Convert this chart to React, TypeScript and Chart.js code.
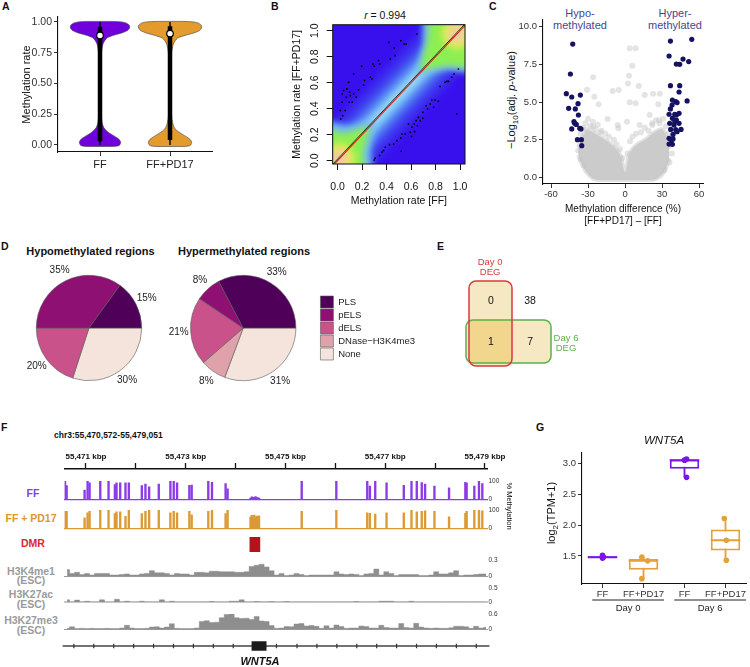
import React, { useEffect, useRef } from 'react';
import { Chart, registerables } from 'chart.js';

Chart.register(...registerables);

const FONT = '"Liberation Sans", Arial, Helvetica, sans-serif';
Chart.defaults.font.family = FONT;
Chart.defaults.color = '#222';

// ================= DATA =================
// Panel A – violin profiles (relative density at each methylation level)
const violinGroups = ['FF', 'FF+PD17'];
const violinLevels = [-0.012, -0.006, 0, 0.02, 0.04, 0.06, 0.08, 0.1, 0.12, 0.14, 0.17, 0.22, 0.35, 0.5, 0.65, 0.73, 0.78, 0.82, 0.85, 0.87, 0.89, 0.91, 0.93, 0.95, 0.97, 0.99, 1.0, 1.004];
const violinDensityFF = [14, 19, 20, 21, 20, 17, 13, 9, 6, 4, 2.5, 1.5, 0.9, 0.8, 0.9, 1.3, 2, 3, 5, 7, 13, 22, 28, 30, 30, 27, 22, 13];
const violinDensityPD = [15, 20, 21, 22, 21, 18, 14, 10, 6.5, 4.5, 3, 1.8, 1, 0.9, 1, 1.4, 2.2, 3.4, 5.5, 8, 15, 24, 30, 32, 32, 29, 24, 14];
const violinMin = [0, 0];
const violinQ1 = [0.03, 0.04];
const violinMedian = [0.89, 0.905];
const violinQ3 = [0.96, 0.965];
const violinMax = [1, 1];
const rateTicks = [0, 0.25, 0.5, 0.75, 1];

// Panel B – scattered CpGs outside the dense diagonal
const upperX = [0.419, 0.516, 0.544, 0.560, 0.462, 0.647, 0.430, 0.470, 0.334, 0.288, 0.343, 0.299, 0.196, 0.131, 0.267, 0.280, 0.220, 0.212, 0.171, 0.090, 0.076, 0.049, 0.038, 0.098, 0.131, 0.104, 0.071, 0.152, 0.095, 0.120, 0.036, 0.063, 0.022, 0.041, 0.025];
const upperY = [0.910, 0.923, 0.898, 0.898, 0.867, 0.975, 0.782, 0.808, 0.770, 0.744, 0.744, 0.726, 0.726, 0.667, 0.641, 0.628, 0.616, 0.582, 0.546, 0.603, 0.552, 0.539, 0.513, 0.526, 0.513, 0.500, 0.487, 0.487, 0.449, 0.449, 0.449, 0.385, 0.385, 0.346, 0.321];
const lowerX = [0.986, 0.951, 0.932, 0.905, 0.891, 0.878, 0.837, 0.796, 0.769, 0.756, 0.823, 0.783, 0.723, 0.734, 0.696, 0.660, 0.674, 0.641, 0.625, 0.652, 0.606, 0.593, 0.579, 0.552, 0.525, 0.516, 0.484, 0.457, 0.424, 0.389, 0.375, 0.362, 0.343, 0.307, 0.299, 0.519, 0.973, 0.696, 0.628, 0.604];
const lowerY = [0.705, 0.667, 0.641, 0.610, 0.610, 0.603, 0.570, 0.467, 0.467, 0.436, 0.457, 0.410, 0.423, 0.398, 0.372, 0.333, 0.308, 0.308, 0.282, 0.269, 0.257, 0.218, 0.282, 0.205, 0.205, 0.175, 0.154, 0.128, 0.123, 0.103, 0.077, 0.064, 0.039, 0.018, 0.005, 0.072, 0.359, 0.326, 0.223, 0.185];
const identityX = [-0.05, 1.05];
const identityY = [-0.05, 1.05];
const fitY = [-0.038, 1.062];
const bTicks = [0, 0.2, 0.4, 0.6, 0.8, 1.0];

// Panel C – volcano
const hypoX = [-42.4, -44.3, -47.6, -43.2, -36.2, -45.7, -40.3, -38.1, -37.8, -40.8, -39.5, -43.2, -35.7, -38.6, -35.4, -35.1, -41.4, -36.7];
const hypoY = [8.83, 6.85, 5.55, 5.33, 5.46, 4.58, 4.54, 4.89, 4.14, 3.59, 3.52, 3.22, 3.22, 2.51, 2.51, 2.11, 3.70, 3.26];
const hyperX = [36.8, 54.1, 35.7, 47.0, 41.6, 44.3, 51.6, 36.8, 44.3, 43.8, 38.4, 41.1, 42.2, 50.3, 36.8, 35.7, 40.3, 41.6, 43.8, 38.4, 41.6, 36.2, 39.7, 43.8, 37.0, 41.1, 45.4, 38.9, 42.2, 35.7, 37.6, 35.7, 38.4, 38.9, 40.3, 38.1];
const hyperY = [9.03, 9.14, 8.04, 7.84, 7.51, 7.49, 7.67, 6.08, 6.08, 5.66, 5.13, 5.02, 4.96, 5.07, 4.54, 4.19, 4.19, 4.14, 4.25, 3.92, 3.81, 3.59, 3.48, 3.59, 3.19, 3.17, 3.19, 2.86, 3.04, 2.60, 2.49, 2.22, 2.20, 2.56, 3.70, 4.80];
const nsX = [3.8, 8.6, 5.9, -25.9, 3.2, 2.4, 11.1, -5.1, -10.0, -30.8, -24.9, 22.7, 28.1, 15.9, 3.8, 8.6, -21.4, 27.0, -14.1, -5.9, 1.6, 11.9, -20.0, -25.9, 20.0, 22.2, -31.4, 27.6, -5.4, -36, -34, -32, -30, -28, -26, -24, -22, -19, -16, -13, -9, -7, -4, -2, 2, 4, 6, 9, 13, 16, 19, 22, 25, 28, 31, 33, 35, 37, -38, -36, 36, 38, -33, 32];
const nsY = [8.55, 8.55, 7.40, 6.63, 6.74, 6.23, 6.06, 5.79, 5.73, 5.81, 5.35, 5.55, 5.55, 5.46, 4.98, 4.91, 4.85, 4.85, 3.88, 3.48, 3.70, 3.48, 3.00, 3.37, 4.14, 3.48, 3.15, 3.79, 3.26, 2.9, 3.3, 3.6, 3.9, 3.4, 3.7, 3.2, 3.5, 3.1, 2.9, 2.7, 2.5, 2.2, 1.9, 1.3, 1.6, 2.4, 2.7, 2.9, 3.0, 3.3, 3.1, 3.6, 3.8, 3.6, 3.9, 3.4, 2.9, 2.3, 1.8, 1.2, 1.0, 1.6, 0.8, 0.5];
const cloudX = [-38, -35, -32, -29, -26, -22, -18, -14, -10, -6, -3, -1.5, 0, 1.5, 3, 6, 10, 14, 18, 22, 26, 30, 33, 36];
const cloudHigh = [2.0, 2.6, 3.0, 3.1, 3.0, 2.8, 2.6, 2.4, 2.1, 1.8, 1.3, 0.7, 0.35, 0.8, 1.5, 1.9, 2.2, 2.4, 2.6, 2.9, 3.1, 3.2, 2.8, 1.9];
const cloudLow = [1.5, 0.9, 0.45, 0.15, -0.05, -0.15, -0.15, -0.15, -0.15, -0.15, -0.15, -0.15, -0.15, -0.15, -0.15, -0.15, -0.15, -0.15, -0.15, -0.15, -0.05, 0.2, 0.6, 1.3];
const diffTicks = [-60, -30, 0, 30, 60];
const pTicks = [0, 2.5, 5, 7.5, 10];

// Panel D – region annotation shares (%)
const regionTypes = ['PLS', 'pELS', 'dELS', 'DNase−H3K4me3', 'None'];
const hypoPct = [15, 35, 20, 0, 30];
const hyperPct = [33, 8, 21, 8, 31];

// Panel E – DEG overlap counts
const vennCells = ['Day 0 only', 'Neither', 'Both', 'Day 6 only'];
const vennCounts = [0, 38, 1, 7];

// Panel F – genome browser
const GSTART = 55470572;
const GEND = 55479051;
const axisKbp = [55471, 55472, 55473, 55474, 55475, 55476, 55477, 55478, 55479];
const cpgPos = [55470580, 55470613, 55470973, 55471033, 55471073, 55471287, 55471453, 55471580, 55471613, 55471687, 55471793, 55471860, 55472120, 55472193, 55472267, 55472460, 55472693, 55472760, 55472827, 55473073, 55473120, 55473453, 55473527, 55473800, 55473840,
  55474300, 55474325, 55474350, 55474375, 55474400, 55474425, 55474450, 55474470,
  55475326, 55476020, 55476640, 55476693, 55476800, 55477027, 55477373, 55477527, 55477633, 55477733, 55477800, 55477987, 55478280, 55478607, 55478633, 55478787, 55478880, 55478947];
const methFF = [100, 74, 49, 100, 89, 100, 100, 80, 89, 89, 89, 89, 74, 83, 68, 83, 100, 100, 89, 75, 77, 100, 92, 85, 57,
  6, 12, 10, 8, 14, 9, 7, 5,
  100, 100, 100, 72, 100, 89, 75, 100, 100, 91, 83, 72, 62, 92, 88, 72, 100, 85];
const methPD = [92, 92, 56, 84, 92, 100, 100, 80, 89, 89, 64, 100, 80, 92, 100, 100, 84, 92, 84, 92, 73, 92, 100, 80, 100,
  62, 70, 58, 72, 60, 66, 55, 68,
  92, 100, 84, 81, 77, 84, 84, 100, 89, 92, 95, 92, 62, 81, 92, 100, 100, 95];
const dmrStart = 55474280;
const dmrEnd = 55474494;
const HIST_START = 55470572;
const HIST_STEP = 100;
const h3k4me1 = [0.12, 0.05, 0.07, 0.03, 0.05, 0.02, 0.05, 0.05, 0.05, 0.02,
  0.02, 0.03, 0.04, 0.02, 0.02, 0.04, 0.05, 0.10, 0.06, 0.06,
  0.05, 0.02, 0.05, 0.04, 0.04, 0.02, 0.07, 0.07, 0.06, 0.09,
  0.09, 0.08, 0.08, 0.08, 0.07, 0.07, 0.08, 0.18, 0.20, 0.22,
  0.17, 0.10, 0.02, 0.05, 0.01, 0.02, 0.05, 0.03, 0.01, 0.02,
  0.02, 0.02, 0.02, 0.02, 0.08, 0.04, 0.03, 0.04, 0.03, 0.01,
  0.04, 0.05, 0.13, 0.02, 0.08, 0.05, 0.01, 0.03, 0.03, 0.03,
  0.03, 0.01, 0.01, 0.02, 0.08, 0.04, 0.04, 0.06, 0.10, 0.01,
  0.02, 0.02, 0.03, 0.04, 0.04];
const h3k27ac = [0.08, 0, 0.07, 0, 0.03, 0, 0, 0.08, 0, 0,
  0.10, 0, 0.03, 0, 0, 0.03, 0, 0, 0, 0.08,
  0, 0.03, 0, 0, 0, 0, 0, 0, 0, 0.02,
  0, 0, 0, 0.03, 0.03, 0.08, 0, 0, 0.02, 0,
  0, 0.02, 0, 0, 0.02, 0, 0, 0, 0, 0,
  0, 0, 0, 0, 0, 0, 0, 0, 0.02, 0,
  0, 0, 0, 0.03, 0.03, 0.03, 0, 0, 0, 0.03,
  0, 0, 0, 0, 0, 0, 0, 0, 0, 0,
  0, 0, 0, 0, 0];
const h3k27me3 = [0.03, 0.09, 0.02, 0.03, 0.02, 0.03, 0.02, 0.02, 0.03, 0.02,
  0.02, 0.04, 0.15, 0.04, 0.02, 0.02, 0.03, 0.08, 0.09, 0.04,
  0.08, 0.21, 0.03, 0.02, 0.02, 0.02, 0.04, 0.30, 0.33, 0.26,
  0.27, 0.45, 0.58, 0.60, 0.45, 0.42, 0.43, 0.38, 0.50, 0.32,
  0.30, 0.14, 0.03, 0.04, 0.10, 0.09, 0.20, 0.22, 0.12, 0.14,
  0.11, 0.03, 0.13, 0.04, 0.16, 0.10, 0.03, 0.04, 0.04, 0.12,
  0.10, 0.04, 0.04, 0.15, 0.06, 0.04, 0.04, 0.22, 0.06, 0.04,
  0.23, 0.08, 0.04, 0.03, 0.04, 0.03, 0.03, 0.05, 0.11, 0.11,
  0.09, 0.03, 0.11, 0.04, 0.07];
const geneStart = 55470520;
const geneEnd = 55479090;
const exonStart = 55474314;
const exonEnd = 55474614;
const intronMarks = [55470746, 55471146, 55471546, 55471946, 55472346, 55472746, 55473146, 55473546, 55473946, 55474814, 55475226, 55475626, 55476026, 55476426, 55476826, 55477226, 55477626, 55478026, 55478426, 55478826];

// Panel G – WNT5A expression
const tpmLabels = ['FF', 'FF+PD17', 'FF', 'FF+PD17'];
const tpmDays = ['Day 0', 'Day 0', 'Day 6', 'Day 6'];
const tpmMin = [1.465, 1.13, 2.78, 1.43];
const tpmQ1 = [1.47, 1.275, 2.92, 1.59];
const tpmMed = [1.48, 1.42, 3.06, 1.755];
const tpmQ3 = [1.495, 1.45, 3.07, 1.93];
const tpmMax = [1.51, 1.48, 3.08, 2.11];
const tpmPoints = [[1.465, 1.48, 1.51], [1.48, 1.42, 1.13], [3.08, 3.06, 2.78], [2.11, 1.755, 1.43]];
const tpmJitter = [[0, 0.02, 0], [-0.04, 0.1, -0.04], [0.05, 0, 0.05], [-0.03, 0.02, 0.02]];
const tpmTicks = [1.5, 2.0, 2.5, 3.0];

// ================= STYLE =================
const PURPLE = '#7000DC';
const ORANGE = '#E39B2E';
const regionColors = ['#4F0058', '#8E1072', '#C9528A', '#DFA2AA', '#F4E4DB'];
const NAVY = '#161262';

// ================= HELPERS =================
function opts(o: any) {
  return {
    responsive: false,
    animation: false,
    events: [],
    ...o,
    plugins: { legend: { display: false }, tooltip: { enabled: false }, ...(o.plugins || {}) },
  };
}
const fixedTicks = (vals: number[]) => (s: any) => { s.ticks = vals.map((v) => ({ value: v })); };
const ggGrid = { display: true, drawOnChartArea: false, drawTicks: true, tickLength: 4, color: '#333', tickWidth: 1 };
const ggBorder = { display: true, color: '#111', width: 1.1 };

function ChartBox({ x, y, w, h, make }: any) {
  const ref = useRef<HTMLCanvasElement>(null);
  useEffect(() => {
    const chart = new Chart(ref.current as HTMLCanvasElement, make());
    return () => chart.destroy();
  }, []);
  return <canvas ref={ref} width={w} height={h} style={{ position: 'absolute', left: x, top: y, width: w, height: h }} />;
}

function Txt({ x, y, children, size = 10, color = '#111', bold = false, italic = false, rotate = 0, left = false }: any) {
  return (
    <div style={{
      position: 'absolute', left: x, top: y, whiteSpace: 'nowrap', lineHeight: 1.05, textAlign: left ? 'left' : 'center',
      transform: `translate(${left ? '0' : '-50%'}, -50%) rotate(${rotate}deg)`,
      fontSize: size, color, fontWeight: bold ? 'bold' : 'normal', fontStyle: italic ? 'italic' : 'normal', fontFamily: FONT,
    }}>{children}</div>
  );
}

// ================= PANEL A =================
function makeViolin() {
  const maxD = Math.max(...violinDensityFF, ...violinDensityPD);
  const k = 0.45 / maxD;
  const dens = [violinDensityFF, violinDensityPD];
  const cols = [PURPLE, ORANGE];
  const g = violinGroups.map((_, i) => i);
  const poly = (i: number) => {
    const c = i + 1;
    const right = violinLevels.map((v, j) => ({ x: c + dens[i][j] * k, y: v }));
    const left = violinLevels.map((v, j) => ({ x: c - dens[i][j] * k, y: v })).reverse();
    return [...right, ...left, right[0]];
  };
  return {
    type: 'scatter',
    data: {
      datasets: [
        { data: g.map((i) => ({ x: i + 1, y: violinMedian[i] })), pointRadius: 3.3, pointBackgroundColor: '#fff', pointBorderColor: '#000', pointBorderWidth: 1.2 },
        ...g.map((i) => ({ data: [{ x: i + 1, y: violinQ1[i] }, { x: i + 1, y: violinQ3[i] }], showLine: true, borderColor: '#000', borderWidth: 4.5, borderCapStyle: 'butt', pointRadius: 0 })),
        ...g.map((i) => ({ data: [{ x: i + 1, y: violinMin[i] }, { x: i + 1, y: violinMax[i] }], showLine: true, borderColor: '#000', borderWidth: 1.4, pointRadius: 0 })),
        ...g.map((i) => ({ data: poly(i), showLine: true, fill: 'shape', backgroundColor: cols[i], borderColor: '#3a3a3a', borderWidth: 0.6, pointRadius: 0, tension: 0.2 })),
      ],
    },
    options: opts({
      layout: { padding: { left: 14, top: 17, right: 10, bottom: 0 } },
      scales: {
        x: {
          type: 'linear', min: 0.4, max: 2.6, afterBuildTicks: fixedTicks([1, 2]),
          ticks: { callback: (v: any) => violinGroups[Math.round(v) - 1], font: { size: 11 }, color: '#222', padding: 2, autoSkip: false, maxRotation: 0 },
          grid: ggGrid, border: ggBorder, afterFit: (s: any) => { s.height = 23; },
        },
        y: {
          type: 'linear', min: -0.057, max: 1.04, afterBuildTicks: fixedTicks(rateTicks),
          ticks: { callback: (v: any) => Number(v).toFixed(2), font: { size: 10.5 }, color: '#333', padding: 2 },
          title: { display: true, text: 'Methylation rate', font: { size: 11 }, color: '#111', padding: { top: 6, bottom: 0 } },
          grid: ggGrid, border: ggBorder, afterFit: (s: any) => { s.width = 44; },
        },
      },
    }),
  };
}

// ================= PANEL B =================
const densityPlugin = {
  id: 'densityBg',
  beforeDatasetsDraw(chart: any) {
    const { ctx, chartArea: a, scales } = chart;
    const X = (v: number) => scales.x.getPixelForValue(v);
    const Y = (v: number) => scales.y.getPixelForValue(v);
    const poly = (pts: number[][], style: any) => {
      ctx.beginPath();
      pts.forEach(([u, v], i) => (i ? ctx.lineTo(X(u), Y(v)) : ctx.moveTo(X(u), Y(v))));
      ctx.closePath();
      ctx.fillStyle = style;
      ctx.fill();
    };
    ctx.save();
    ctx.beginPath();
    ctx.rect(a.left, a.top, a.width, a.height);
    ctx.clip();
    ctx.fillStyle = '#3810EE';
    ctx.fillRect(a.left, a.top, a.width, a.height);
    ctx.filter = 'blur(3px)';
    const bands: [number, string][] = [[0.17, '#3b22ef'], [0.135, '#3f38f0'], [0.10, '#4657f1'], [0.075, '#527cf3'], [0.052, '#64a2f5'], [0.033, '#80c4f7'], [0.016, '#a0def8']];
    bands.forEach(([d, c]) => poly([[-0.2 - d, -0.2 + d], [1.2 - d, 1.2 + d], [1.2 + d, 1.2 - d], [-0.2 + d, -0.2 - d]], c));
    // corner cones (high-density regions)
    poly([[-0.1, -0.1], [-0.1, 0.31], [0.08, 0.27], [0.31, 0.31], [0.27, 0.08], [0.29, -0.1]], '#6fb8f5');
    poly([[1.1, 1.1], [0.69, 1.1], [0.7, 0.9], [0.64, 0.66], [0.9, 0.7], [1.1, 0.67]], '#6fb8f5');
    poly([[-0.1, -0.1], [-0.1, 0.25], [0.05, 0.21], [0.27, 0.27], [0.21, 0.05], [0.23, -0.1]], '#8DEF52');
    poly([[1.1, 1.1], [0.75, 1.1], [0.73, 0.92], [0.67, 0.69], [0.9, 0.73], [1.1, 0.71]], '#8DEF52');
    [[0.015, 0.015], [0.975, 0.975]].forEach(([u, v]) => {
      const cx = X(u), cy = Y(v);
      const g = ctx.createRadialGradient(cx, cy, 0, cx, cy, 18);
      g.addColorStop(0, '#f3c6aa');
      g.addColorStop(0.4, '#f0cf98');
      g.addColorStop(0.62, '#ece85a');
      g.addColorStop(0.82, '#c4f04a');
      g.addColorStop(1, 'rgba(141,239,82,0)');
      ctx.fillStyle = g;
      ctx.beginPath();
      ctx.arc(cx, cy, 18, 0, Math.PI * 2);
      ctx.fill();
    });
    ctx.restore();
  },
  afterDatasetsDraw(chart: any) {
    const { ctx, chartArea: a } = chart;
    ctx.save();
    ctx.strokeStyle = '#111';
    ctx.lineWidth = 1;
    ctx.strokeRect(a.left, a.top, a.width, a.height);
    ctx.restore();
  },
};

function makeSmooth() {
  return {
    type: 'scatter',
    data: {
      datasets: [
        { data: upperX.map((v, i) => ({ x: v, y: upperY[i] })), pointStyle: 'rect', pointRadius: 1.1, pointBackgroundColor: '#000', pointBorderWidth: 0 },
        { data: lowerX.map((v, i) => ({ x: v, y: lowerY[i] })), pointStyle: 'rect', pointRadius: 1.1, pointBackgroundColor: '#000', pointBorderWidth: 0 },
        { data: identityX.map((v, i) => ({ x: v, y: identityY[i] })), showLine: true, borderColor: '#D81E1E', borderWidth: 1.1, pointRadius: 0 },
        { data: identityX.map((v, i) => ({ x: v, y: fitY[i] })), showLine: true, borderColor: '#1f3a1f', borderWidth: 1, pointRadius: 0 },
      ],
    },
    plugins: [densityPlugin],
    options: opts({
      layout: { padding: { left: 0, top: 16.7, right: 15, bottom: 0 } },
      scales: {
        x: {
          type: 'linear', min: -0.04, max: 1.04, afterBuildTicks: fixedTicks(bTicks),
          ticks: { callback: (v: any) => Number(v).toFixed(1), font: { size: 10.5 }, color: '#111', padding: 11, maxRotation: 0, autoSkip: false },
          grid: { display: true, drawOnChartArea: false, tickLength: 6, color: '#111' }, border: { display: false },
          title: { display: true, text: 'Methylation rate [FF]', font: { size: 10.5 }, color: '#111', padding: { top: 0, bottom: 6 } },
          afterFit: (s: any) => { s.height = 49; },
        },
        y: {
          type: 'linear', min: -0.026, max: 1.046, afterBuildTicks: fixedTicks(bTicks),
          ticks: { callback: (v: any) => Number(v).toFixed(1), font: { size: 10.5 }, color: '#111', padding: 4, minRotation: 90, maxRotation: 90, crossAlign: 'center' },
          grid: { display: true, drawOnChartArea: false, tickLength: 6, color: '#111' }, border: { display: false },
          title: { display: true, text: 'Methylation rate [FF+PD17]', font: { size: 10.5 }, color: '#111', padding: { top: 10.7, bottom: 0 } },
          afterFit: (s: any) => { s.width = 52.7; },
        },
      },
    }),
  };
}

// ================= PANEL C =================
function makeVolcano() {
  return {
    type: 'scatter',
    data: {
      datasets: [
        { data: hypoX.map((v, i) => ({ x: v, y: hypoY[i] })), pointRadius: 2.6, pointBackgroundColor: NAVY, pointBorderWidth: 0 },
        { data: hyperX.map((v, i) => ({ x: v, y: hyperY[i] })), pointRadius: 2.6, pointBackgroundColor: NAVY, pointBorderWidth: 0 },
        { data: nsX.map((v, i) => ({ x: v, y: nsY[i] })), pointRadius: 3, pointBackgroundColor: 'rgba(195,195,195,0.45)', pointBorderWidth: 0 },
        { data: cloudX.map((v, i) => ({ x: v, y: cloudHigh[i] })), showLine: true, fill: '+1', backgroundColor: 'rgba(200,200,200,0.95)', borderColor: 'rgba(205,205,205,0.6)', borderWidth: 4, pointRadius: 0, tension: 0.3 },
        { data: cloudX.map((v, i) => ({ x: v, y: cloudLow[i] })), showLine: true, borderColor: 'rgba(205,205,205,0.6)', borderWidth: 4, pointRadius: 0, tension: 0.3 },
      ],
    },
    options: opts({
      layout: { padding: { left: 0, top: 20, right: 47, bottom: 0 } },
      scales: {
        x: {
          type: 'linear', min: -66.5, max: 63.2, afterBuildTicks: fixedTicks(diffTicks),
          ticks: { font: { size: 9.5 }, color: '#333', padding: 1, maxRotation: 0, autoSkip: false },
          grid: ggGrid, border: ggBorder,
          title: { display: true, text: ['Methylation difference (%)', '[FF+PD17] – [FF]'], font: { size: 10 }, color: '#111', padding: { top: 0, bottom: 5 } },
          afterFit: (s: any) => { s.height = 48; },
        },
        y: {
          type: 'linear', min: -0.42, max: 10.42, afterBuildTicks: fixedTicks(pTicks),
          ticks: { callback: (v: any) => Number(v).toFixed(1), font: { size: 9.5 }, color: '#333', padding: 2 },
          grid: ggGrid, border: ggBorder, afterFit: (s: any) => { s.width = 43; },
        },
      },
    }),
  };
}

// ================= PANEL D =================
const pctLabels = {
  id: 'pctLabels',
  afterDatasetsDraw(chart: any) {
    const { ctx } = chart;
    const meta = chart.getDatasetMeta(0);
    const values = chart.data.datasets[0].data;
    ctx.save();
    ctx.font = `10px ${FONT}`;
    ctx.fillStyle = '#222';
    ctx.textAlign = 'center';
    ctx.textBaseline = 'middle';
    meta.data.forEach((arc: any, i: number) => {
      const v = values[i];
      if (!v) return;
      const p = arc.getProps(['x', 'y', 'startAngle', 'endAngle', 'outerRadius'], true);
      const ang = (p.startAngle + p.endAngle) / 2;
      const r = p.outerRadius + 12;
      ctx.fillText(`${v}%`, p.x + Math.cos(ang) * r, p.y + Math.sin(ang) * r);
    });
    ctx.restore();
  },
};

function makePie(values: number[], withLegend: boolean) {
  const rev = <T,>(a: T[]) => [...a].reverse();
  return {
    type: 'pie',
    data: {
      labels: rev(regionTypes),
      datasets: [{ data: rev(values), backgroundColor: rev(regionColors), borderColor: '#5a5a5a', borderWidth: 0.6 }],
    },
    plugins: [pctLabels],
    options: opts({
      rotation: 90,
      layout: { padding: withLegend ? { left: 27, top: 22, bottom: 22, right: 0 } : 22 },
      plugins: withLegend ? {
        legend: {
          display: true, position: 'right', reverse: true,
          labels: { boxWidth: 13, boxHeight: 12, padding: 1, font: { size: 9.5 }, color: '#222' },
        },
      } : {},
    }),
  };
}

// ================= PANEL E =================
const vennLayout = {
  day0: { x0: 0, x1: 1, y0: 0, y1: 2 },
  day6: { x0: -0.07, x1: 1.907, y0: 0.918, y1: 1.93 },
};
const vennCellPos = [[0.51, 0.47], [1.42, 0.47], [0.51, 1.44], [1.42, 1.44]];
const vennSetLabels = [
  { lines: ['Day 0', 'DEG'], x: 0.49, y: [-0.447, -0.212], color: '#D93A3A' },
  { lines: ['Day 6', 'DEG'], x: 2.256, y: [1.34, 1.576], color: '#5DAE4C' },
];
const vennPlugin = {
  id: 'venn',
  beforeDatasetsDraw(chart: any) {
    const { ctx, scales: { x, y } } = chart;
    const r = (b: any) => [x.getPixelForValue(b.x0), y.getPixelForValue(b.y0), x.getPixelForValue(b.x1), y.getPixelForValue(b.y1)];
    const A = r(vennLayout.day0);
    const B = r(vennLayout.day6);
    const rr = (q: number[]) => { ctx.beginPath(); ctx.roundRect(q[0], q[1], q[2] - q[0], q[3] - q[1], 7); };
    ctx.save();
    ctx.fillStyle = '#F7E8C4';
    rr(A); ctx.fill();
    rr(B); ctx.fill();
    ctx.save();
    rr(A); ctx.clip();
    ctx.fillStyle = '#F1D68E';
    rr(B); ctx.fill();
    ctx.restore();
    ctx.lineWidth = 1.5;
    ctx.strokeStyle = '#5DAE4C'; rr(B); ctx.stroke();
    ctx.strokeStyle = '#D93A3A'; rr(A); ctx.stroke();
    ctx.font = `9.5px ${FONT}`;
    ctx.textAlign = 'center';
    ctx.textBaseline = 'middle';
    vennSetLabels.forEach((l) => {
      ctx.fillStyle = l.color;
      l.lines.forEach((t, i) => ctx.fillText(t, x.getPixelForValue(l.x), y.getPixelForValue(l.y[i])));
    });
    ctx.restore();
  },
  afterDatasetsDraw(chart: any) {
    const { ctx } = chart;
    const meta = chart.getDatasetMeta(0);
    ctx.save();
    ctx.font = `10.5px ${FONT}`;
    ctx.fillStyle = '#111';
    ctx.textAlign = 'center';
    ctx.textBaseline = 'middle';
    meta.data.forEach((pt: any, i: number) => ctx.fillText(String(vennCounts[i]), pt.x, pt.y));
    ctx.restore();
  },
};
function makeVenn() {
  return {
    type: 'scatter',
    data: { labels: vennCells, datasets: [{ data: vennCellPos.map(([u, v]) => ({ x: u, y: v })), pointRadius: 0 }] },
    plugins: [vennPlugin],
    options: opts({
      layout: { padding: { left: 20.4, right: 20.6, top: 11.25, bottom: 3.75 } },
      scales: {
        x: { type: 'linear', min: -0.2, max: 2.8, display: false },
        y: { type: 'linear', min: -0.7, max: 2.5, reverse: true, display: false },
      },
    }),
  };
}

// ================= PANEL F =================
const trackX = (baseline?: any) => ({
  type: 'linear', min: GSTART, max: GEND, offset: false,
  display: !!baseline,
  ticks: { display: false }, grid: { display: false },
  border: baseline ? { display: true, color: baseline.color, width: baseline.width } : { display: false },
  afterFit: (s: any) => { s.height = 0; },
});
const trackY = (max: number, ticks?: number[]) => (ticks ? {
  position: 'right', min: 0, max, afterBuildTicks: fixedTicks(ticks),
  ticks: { font: { size: 6.5 }, color: '#333', padding: 1, callback: (v: any) => String(v) },
  grid: { display: false, drawTicks: false, tickLength: 0 }, border: { display: false },
  afterFit: (s: any) => { s.width = 32.5; },
} : { min: 0, max, display: false });
const trackOpts = (x: any, y: any, top: number, bottom: number, right: number) =>
  opts({ layout: { padding: { left: 4.6, right, top, bottom } }, scales: { x, y } });

function makeAxisTrack() {
  return {
    type: 'line',
    data: { datasets: [] },
    options: opts({
      layout: { padding: { left: 4.6, right: 42.5, top: 0, bottom: 0 } },
      scales: {
        x: {
          type: 'linear', position: 'top', min: GSTART, max: GEND,
          afterBuildTicks: fixedTicks(axisKbp.map((k) => k * 1000)),
          ticks: {
            autoSkip: false, maxRotation: 0, font: { size: 8, weight: 'bold' }, color: '#111', padding: 1,
            callback: (v: any) => (Math.round(v / 1000) % 2 === 1 ? `${Math.round(v / 1000).toLocaleString('en-US')} kbp` : ''),
          },
          grid: { drawOnChartArea: false, tickLength: 6, tickWidth: 1.3, color: '#111' },
          border: { display: true, color: '#111', width: 1.5 },
          afterFit: (s: any) => { s.height = 29; },
        },
        y: { display: false, min: 0, max: 1 },
      },
    }),
  };
}
function makeMethTrack(values: number[], color: string, top: number, bottom: number) {
  return {
    type: 'bar',
    data: { datasets: [{ data: cpgPos.map((p, i) => ({ x: p, y: values[i] })), backgroundColor: color, barThickness: 1.7 }] },
    options: trackOpts(trackX({ color, width: 1.2 }), trackY(100, [0, 100]), top, bottom, 0),
  };
}
function makeDmrTrack() {
  return {
    type: 'line',
    data: { datasets: [{ data: [{ x: dmrStart, y: 0.5 }, { x: dmrEnd, y: 0.5 }], borderColor: '#B3141C', borderWidth: 15, borderCapStyle: 'butt', pointRadius: 0 }] },
    options: trackOpts(trackX(), trackY(1), 2, 3, 32.5),
  };
}
function makeHistTrack(values: number[], max: number, base: any, top: number, bottom: number) {
  return {
    type: 'line',
    data: {
      datasets: [{
        data: values.map((v, i) => ({ x: HIST_START + HIST_STEP * (i + 0.5), y: v })),
        stepped: 'middle', fill: 'origin', backgroundColor: '#8e8e8e', borderColor: '#8e8e8e', borderWidth: 0.5, pointRadius: 0,
      }],
    },
    options: trackOpts(trackX(base), trackY(max, [0, max]), top, bottom, 0),
  };
}
function makeGeneTrack() {
  return {
    type: 'line',
    data: {
      datasets: [
        { data: [{ x: exonStart, y: 0.5 }, { x: exonEnd, y: 0.5 }], borderColor: '#1b1b1b', borderWidth: 12, borderCapStyle: 'butt', pointRadius: 0 },
        { type: 'scatter', data: intronMarks.map((p) => ({ x: p, y: 0.5 })), pointStyle: 'line', rotation: 90, pointRadius: 2.2, borderColor: '#333', pointBorderColor: '#333', pointBorderWidth: 1.2 },
        { data: [{ x: geneStart, y: 0.5 }, { x: geneEnd, y: 0.5 }], borderColor: '#444', borderWidth: 1.3, pointRadius: 0, clip: 6 },
      ],
    },
    options: trackOpts(trackX(), trackY(1), 4, 4, 32.5),
  };
}

// ================= PANEL G =================
const dayPlugin = {
  id: 'dayGroups',
  afterDraw(chart: any) {
    const { ctx, chartArea, scales: { x } } = chart;
    const band = (chartArea.right - chartArea.left) / tpmLabels.length;
    const days = Array.from(new Set(tpmDays));
    ctx.save();
    ctx.strokeStyle = '#222';
    ctx.lineWidth = 1;
    ctx.fillStyle = '#222';
    ctx.font = `9.5px ${FONT}`;
    ctx.textAlign = 'center';
    ctx.textBaseline = 'middle';
    days.forEach((d) => {
      const idx = tpmDays.map((v, i) => (v === d ? i : -1)).filter((i) => i >= 0);
      const x0 = x.getPixelForValue(idx[0]) - band * 0.25;
      const x1 = x.getPixelForValue(idx[idx.length - 1]) + band * 0.5;
      const yl = chartArea.bottom + 16;
      ctx.beginPath();
      ctx.moveTo(x0, yl);
      ctx.lineTo(x1, yl);
      ctx.stroke();
      ctx.fillText(d, (x0 + x1) / 2, yl + 8);
    });
    ctx.restore();
  },
};
function makeBox() {
  const G_PURPLE = '#7B14E6';
  const G_ORANGE = '#E5A03A';
  const cols = tpmLabels.map((l) => (l === 'FF' ? G_PURPLE : G_ORANGE));
  const idx = tpmLabels.map((_, i) => i);
  const pts: any[] = [];
  const ptCols: string[] = [];
  idx.forEach((i) => tpmPoints[i].forEach((v, j) => { pts.push({ x: i + tpmJitter[i][j], y: v }); ptCols.push(cols[i]); }));
  const barCommon = { categoryPercentage: 1, grouped: false };
  return {
    type: 'bar',
    data: {
      labels: tpmLabels,
      datasets: [
        { type: 'scatter', xAxisID: 'xp', data: pts, pointRadius: 2.8, pointBackgroundColor: ptCols, pointBorderWidth: 0 },
        { ...barCommon, data: idx.map((i) => [tpmMed[i] - 0.016, tpmMed[i] + 0.016]), backgroundColor: cols, barPercentage: 0.72, borderWidth: 0 },
        { ...barCommon, data: idx.map((i) => [tpmQ1[i], tpmQ3[i]]), backgroundColor: '#fff', borderColor: cols, borderWidth: 2, borderSkipped: false, barPercentage: 0.72 },
        { ...barCommon, data: idx.map((i) => [tpmMin[i], tpmMax[i]]), backgroundColor: cols, barPercentage: 0.045, borderWidth: 0 },
      ],
    },
    plugins: [dayPlugin],
    options: opts({
      layout: { padding: { left: 0, right: 2, top: 0, bottom: 0 } },
      plugins: {
        title: { display: true, text: 'WNT5A', fullSize: false, font: { size: 11.5, style: 'italic', weight: 'normal' }, color: '#111', padding: { top: 7, bottom: 5 } },
      },
      scales: {
        x: {
          type: 'category', offset: true,
          grid: { ...ggGrid, offset: false }, border: ggBorder,
          ticks: { font: { size: 9.5 }, color: '#333', padding: 1, autoSkip: false, maxRotation: 0 },
          afterFit: (s: any) => { s.height = 38; },
        },
        xp: { type: 'linear', min: -0.5, max: 3.5, offset: false, display: false },
        y: {
          type: 'linear', min: 1.043, max: 3.18, afterBuildTicks: fixedTicks(tpmTicks),
          ticks: { callback: (v: any) => Number(v).toFixed(1), font: { size: 9.5 }, color: '#333', padding: 2 },
          grid: ggGrid, border: ggBorder, afterFit: (s: any) => { s.width = 42; },
        },
      },
    }),
  };
}

// ================= APP =================
export default function App() {
  const letter = (t: string, x: number, y: number) => <Txt x={x} y={y} size={10.5} bold left>{t}</Txt>;
  return (
    <div style={{ position: 'absolute', left: 0, top: 0, width: 750, height: 667, background: '#fff', overflow: 'hidden', fontFamily: FONT }}>
      {letter('A', 2, 7)}
      {letter('B', 271, 7)}
      {letter('C', 489, 7)}
      {letter('D', 1, 247)}
      {letter('E', 437, 247)}
      {letter('F', 1, 428)}
      {letter('G', 536, 428)}

      <ChartBox x={0} y={0} w={222} h={175} make={makeViolin} />

      <Txt x={385} y={16} size={10.5}><i>r</i> = {String(0.994)}</Txt>
      <ChartBox x={280} y={8} w={200} h={205} make={makeSmooth} />

      <Txt x={580} y={14} size={11} color="#46468f">Hypo-</Txt>
      <Txt x={580} y={26} size={11} color="#46468f">methylated</Txt>
      <Txt x={675} y={14} size={11} color="#46468f">Hyper-</Txt>
      <Txt x={675} y={26} size={11} color="#46468f">methylated</Txt>
      <Txt x={513} y={100} size={11} rotate={-90}>−Log<sub style={{ fontSize: 8 }}>10</sub>(adj. <i>p</i>-value)</Txt>
      <ChartBox x={500} y={0} w={250} h={232} make={makeVolcano} />

      <Txt x={90.5} y={252} size={11} bold>Hypomethylated regions</Txt>
      <Txt x={244} y={252} size={11} bold>Hypermethylated regions</Txt>
      <ChartBox x={14} y={253} w={150} h={150} make={() => makePie(hypoPct, false)} />
      <ChartBox x={140} y={253} w={285} h={150} make={() => makePie(hyperPct, true)} />

      <ChartBox x={440} y={240} w={170} h={151} make={makeVenn} />

      <Txt x={54} y={435} size={8.5} bold left>chr3:55,470,572-55,479,051</Txt>
      <ChartBox x={60} y={440} w={470} h={32} make={makeAxisTrack} />
      <Txt x={33} y={494} size={10.5} bold color="#8B3BE8">FF</Txt>
      <ChartBox x={60} y={476} w={460} h={28} make={() => makeMethTrack(methFF, '#8C3CE6', 4, 2.3)} />
      <Txt x={31} y={519} size={10.5} bold color="#DE962E">FF + PD17</Txt>
      <ChartBox x={60} y={505} w={460} h={28} make={() => makeMethTrack(methPD, '#DC9A34', 4, 2.7)} />
      <Txt x={509} y={506} size={7.5} rotate={90}>% Methylation</Txt>
      <Txt x={33} y={544} size={10.5} bold color="#D8282E">DMR</Txt>
      <ChartBox x={60} y={535} w={460} h={20} make={makeDmrTrack} />
      <Txt x={31} y={571.5} size={10.5} bold color="#9A9A9A">H3K4me1</Txt>
      <Txt x={31} y={581} size={10.5} bold color="#9A9A9A">(ESC)</Txt>
      <ChartBox x={60} y={555} w={460} h={26} make={() => makeHistTrack(h3k4me1, 0.3, { color: '#999', width: 1 }, 4, 2.7)} />
      <Txt x={31} y={595} size={10.5} bold color="#9A9A9A">H3K27ac</Txt>
      <Txt x={31} y={604.5} size={10.5} bold color="#9A9A9A">(ESC)</Txt>
      <ChartBox x={60} y={583} w={460} h={24} make={() => makeHistTrack(h3k27ac, 0.5, { color: '#c8c8c8', width: 2 }, 4, 2.5)} />
      <Txt x={31} y={621} size={10.5} bold color="#9A9A9A">H3K27me3</Txt>
      <Txt x={31} y={630.5} size={10.5} bold color="#9A9A9A">(ESC)</Txt>
      <ChartBox x={60} y={609} w={460} h={25} make={() => makeHistTrack(h3k27me3, 0.6, { color: '#999', width: 1 }, 4, 3)} />
      <ChartBox x={60} y={636} w={460} h={20} make={makeGeneTrack} />
      <Txt x={260} y={662} size={11} bold italic>WNT5A</Txt>

      <Txt x={553} y={513} size={11} rotate={-90}>log<sub style={{ fontSize: 8 }}>2</sub>(TPM+1)</Txt>
      <ChartBox x={540} y={427} w={210} h={195} make={makeBox} />
    </div>
  );
}
